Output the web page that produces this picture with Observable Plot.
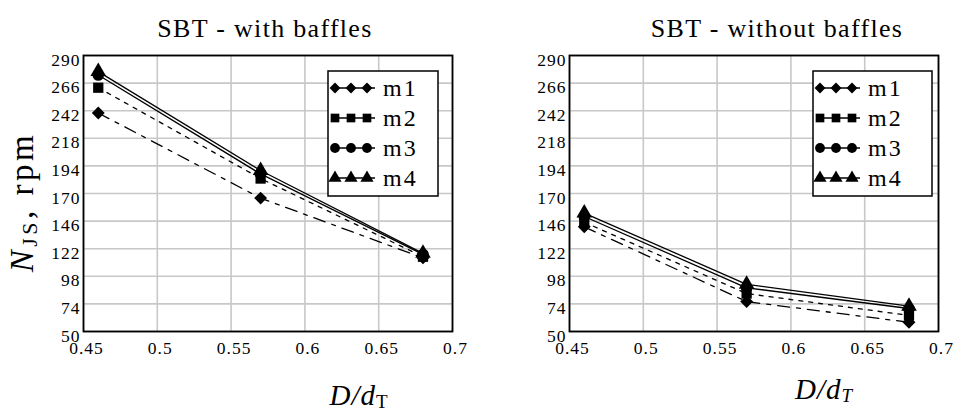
<!DOCTYPE html>
<html>
<head>
<meta charset="utf-8">
<script src="https://cdn.jsdelivr.net/npm/d3@7"></script>
<script src="https://cdn.jsdelivr.net/npm/@observablehq/plot@0.6"></script>
<style>
  html, body { margin: 0; padding: 0; background: #fff; }
  #wrap { position: relative; width: 954px; height: 412px; overflow: hidden; background: #fff; }
  #wrap svg { position: absolute; top: 0; font-family: "Liberation Serif", "Times New Roman", serif !important; }
  #wrap svg text { fill: #000; font-family: "Liberation Serif", "Times New Roman", serif !important; }
  .tick-text text { letter-spacing: 1px; }
</style>
</head>
<body>
<div id="wrap"></div>
<script>
// ---- data ----
const xValues = [0.46, 0.57, 0.68];
const seriesNames = ["m1", "m2", "m3", "m4"];
const withM1 = [240, 166, 114];
const withM2 = [262, 183, 115];
const withM3 = [273, 187, 117];
const withM4 = [276, 190, 118];
const withoutM1 = [141, 76, 58];
const withoutM2 = [145, 83, 64];
const withoutM3 = [150, 88, 70];
const withoutM4 = [153, 91, 72];
const xTicks = [0.45, 0.5, 0.55, 0.6, 0.65, 0.7];
const yTicks = [50, 74, 98, 122, 146, 170, 194, 218, 242, 266, 290];
const titles = ["SBT - with baffles", "SBT - without baffles"];

// ---- styling ----
const symbols = {m1: "diamond2", m2: "square", m3: "circle", m4: "triangle"};
const dashes = {m1: "12,7,4,7", m2: "4,6", m3: null, m4: null};
const serif = "'Liberation Serif', 'Times New Roman', serif";

function toRows(cols) {
  const rows = [];
  seriesNames.forEach((s, i) => cols[i].forEach((v, j) => rows.push({series: s, x: xValues[j], y: v})));
  return rows;
}

function panel(rows, cfg) {
  const marks = [
    Plot.gridX(xTicks, {stroke: "#c8c8c8", strokeOpacity: 1, strokeWidth: 1.6}),
    Plot.gridY(yTicks, {stroke: "#c8c8c8", strokeOpacity: 1, strokeWidth: 1.6}),
    Plot.axisX(xTicks, {tickSize: 0, tickPadding: 10, dx: 3, fontSize: 17.5, fontFamily: serif, tickFormat: d => String(d), label: null, className: "tick-text"}),
    Plot.axisY(yTicks, {tickSize: 0, tickPadding: 3, dy: 4.5, fontSize: 17.5, fontFamily: serif, label: null, className: "tick-text"})
  ];
  seriesNames.forEach(s => {
    const opts = {x: "x", y: "y", stroke: "black", strokeWidth: 1.3};
    if (dashes[s]) opts.strokeDasharray = dashes[s];
    marks.push(Plot.line(rows.filter(d => d.series === s), opts));
  });
  marks.push(Plot.dot(rows, {x: "x", y: "y", symbol: "series", fill: "black", stroke: "none", r: 5.8}));
  marks.push(Plot.frame({stroke: "black", strokeWidth: 1.8}));
  const svg = Plot.plot({
    width: cfg.width, height: 412,
    marginLeft: cfg.ml, marginRight: cfg.mr, marginTop: 55, marginBottom: 81,
    style: {background: "transparent", fontFamily: serif, overflow: "visible"},
    x: {domain: [0.45, 0.7]},
    y: {domain: [50, 290]},
    symbol: {domain: seriesNames, range: seriesNames.map(s => symbols[s])},
    marks
  });
  svg.style.left = cfg.left + "px";
  const g = d3.select(svg);
  // title
  g.append("text").attr("x", cfg.titleX).attr("y", 37).attr("text-anchor", "middle")
    .style("font-size", "26px").style("letter-spacing", "1.3px").text(cfg.title);
  // x label
  const xl = g.append("text").attr("x", cfg.xlX).attr("y", cfg.xlY).attr("text-anchor", "middle")
    .style("font-size", "29px").style("letter-spacing", "1px");
  xl.append("tspan").style("font-style", "italic").text("D/d");
  xl.append("tspan").attr("dy", 3).style("font-size", "19px").style("font-style", cfg.subItalic ? "italic" : "normal").text("T");
  // legend
  const lx = cfg.legX, ly = 71, lw = cfg.legW, lh = 125;
  const leg = g.append("g");
  leg.append("rect").attr("x", lx).attr("y", ly).attr("width", lw).attr("height", lh)
    .attr("fill", "white").attr("stroke", "black").attr("stroke-width", 1.5);
  const symMap = {diamond2: d3.symbolDiamond2, square: d3.symbolSquare, circle: d3.symbolCircle, triangle: d3.symbolTriangle};
  seriesNames.forEach((s, i) => {
    const cy = ly + 17 + i * 30;
    leg.append("line").attr("x1", lx + 3).attr("x2", lx + 47).attr("y1", cy).attr("y2", cy)
      .attr("stroke", "black").attr("stroke-width", 1.3);
    [7, 23, 39].forEach(dx => {
      leg.append("path").attr("d", d3.symbol(symMap[symbols[s]], Math.PI * 4.9 * 4.9)())
        .attr("transform", `translate(${lx + dx},${cy})`).attr("fill", "black");
    });
    leg.append("text").attr("x", lx + 55).attr("y", cy + 8).attr("text-anchor", "start")
      .style("font-size", "24px").style("letter-spacing", "2px").text(s);
  });
  return svg;
}

const wrap = document.getElementById("wrap");
const left = panel(toRows([withM1, withM2, withM3, withM4]), {
  width: 477, ml: 83, mr: 25, left: 0, title: titles[0], titleX: 265,
  xlX: 359, xlY: 405, subItalic: false, legX: 328, legW: 110
});
const right = panel(toRows([withoutM1, withoutM2, withoutM3, withoutM4]), {
  width: 477, ml: 92, mr: 16, left: 477, title: titles[1], titleX: 300,
  xlX: 347, xlY: 399, subItalic: true, legX: 336, legW: 119
});
// y-axis label on left panel
const yl = d3.select(left).append("text")
  .attr("transform", "translate(33,202) rotate(-90)").attr("text-anchor", "middle")
  .style("font-size", "33px").style("letter-spacing", "3.5px");
yl.append("tspan").style("font-style", "italic").text("N");
yl.append("tspan").attr("dy", 4).style("font-size", "22px").text("JS");
yl.append("tspan").attr("dy", -4).text(", rpm");
wrap.appendChild(left);
wrap.appendChild(right);
</script>
</body>
</html>
